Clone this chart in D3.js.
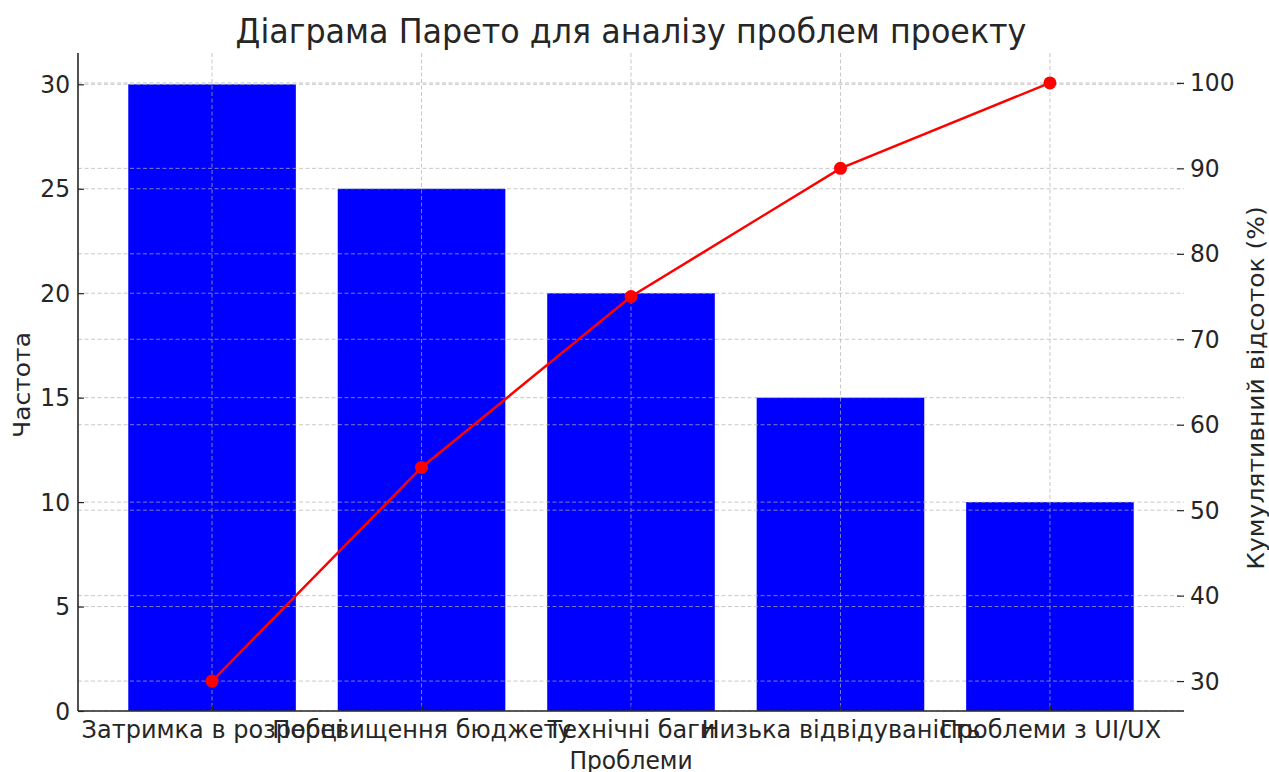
<!DOCTYPE html>
<html><head><meta charset="utf-8">
<script src="https://cdn.jsdelivr.net/npm/d3@7"></script>
<style>body{margin:0;background:#fff}svg{display:block}text{font-family:"DejaVu Sans",sans-serif;fill:#262626}</style>
</head><body><svg id="c" width="1269" height="772"></svg>
<script>
const categories = ["Затримка в розробці","Перевищення бюджету","Технічні баги","Низька відвідуваність","Проблеми з UI/UX"];
const frequency = [30, 25, 20, 15, 10];
const cumulative = [30, 55, 75, 90, 100];
const leftTicks = [0, 5, 10, 15, 20, 25, 30];
const rightTicks = [30, 40, 50, 60, 70, 80, 90, 100];

const SX = 0.935;     // horizontal squeeze of text seen in the reference
const SXB = 0.96;     // squeeze for category labels
const FS = 25;        // tick / label font size
const svg = d3.select("#c");
const L = 78, R = 1184, T = 53, B = 711;
const x = d3.scaleLinear().domain([-0.64, 4.64]).range([L, R]);
const yL = d3.scaleLinear().domain([0, 31.5]).range([B, T]);
const yR = d3.scaleLinear().domain([26.5, 103.5]).range([B, T]);
const bw = x(0.4) - x(-0.4);

// bars
svg.append("g").selectAll("rect").data(frequency).join("rect")
  .attr("x", (d,i) => x(i) - bw/2).attr("width", bw)
  .attr("y", d => yL(d)).attr("height", d => yL(0) - yL(d))
  .attr("fill", "#0000ff");

// grids
const grid = svg.append("g").attr("stroke", "#b0b0b0").attr("stroke-opacity", 0.7)
  .attr("stroke-width", 1).attr("stroke-dasharray", "4,2.5").attr("fill", "none");
leftTicks.forEach(t => grid.append("line").attr("x1", L).attr("x2", R).attr("y1", yL(t)).attr("y2", yL(t)));
rightTicks.forEach(t => grid.append("line").attr("x1", L).attr("x2", R).attr("y1", yR(t)).attr("y2", yR(t)));
categories.forEach((c,i) => grid.append("line").attr("x1", x(i)).attr("x2", x(i)).attr("y1", T).attr("y2", B));

// cumulative line
svg.append("path").datum(cumulative)
  .attr("d", d3.line().x((d,i) => x(i)).y(d => yR(d)))
  .attr("fill", "none").attr("stroke", "#ff0000").attr("stroke-width", 2.5);
svg.append("g").selectAll("circle").data(cumulative).join("circle")
  .attr("cx", (d,i) => x(i)).attr("cy", d => yR(d)).attr("r", 6.5).attr("fill", "#ff0000");

// axes
const axL = svg.append("g").attr("transform", `translate(${L},0)`)
  .call(d3.axisLeft(yL).tickValues(leftTicks).tickSize(6));
const axR = svg.append("g").attr("transform", `translate(${R},0)`)
  .call(d3.axisRight(yR).tickValues(rightTicks).tickSize(6));
const axB = svg.append("g").attr("transform", `translate(0,${B})`)
  .call(d3.axisBottom(x).tickValues(d3.range(categories.length)).tickFormat(i => categories[i]).tickSize(6));
[axL, axR, axB].forEach(a => {
  a.selectAll("text").attr("font-size", FS).attr("fill", "#262626").style("font-family", "DejaVu Sans");
  a.selectAll("line").attr("stroke", "#262626").attr("stroke-width", 1.2);
  a.select(".domain").attr("stroke", "#262626").attr("stroke-width", 1.6);
});
axR.select(".domain").remove();
axL.select(".domain").attr("d", `M0,${B}V${T}`);
axB.select(".domain").attr("d", `M${L},0H${R}`);
// inward ticks
axL.selectAll(".tick line").attr("x1", 0).attr("x2", 6);
axR.selectAll(".tick line").attr("x1", -7).attr("x2", 0);
axB.selectAll(".tick line").attr("y1", 0).attr("y2", -6);
// tick label positions (squeezed horizontally)
axL.selectAll(".tick text").attr("x", -8 / SX).attr("transform", `scale(${SX},1)`);
axR.selectAll(".tick text").attr("x", 6 / SX).attr("transform", `scale(${SX},1)`);
axB.selectAll(".tick text").attr("y", 9).attr("transform", `scale(${SXB},1)`);

// labels
svg.append("text").attr("transform", `translate(631,43) scale(${SX},1)`).attr("text-anchor", "middle").attr("font-size", 34).attr("fill", "#333").text("Діаграма Парето для аналізу проблем проекту");
svg.append("text").attr("transform", `translate(631,769) scale(${SX},1)`).attr("text-anchor", "middle").attr("font-size", FS).text("Проблеми");
svg.append("text").attr("transform", `translate(30,385) rotate(-90) scale(1,${SX})`).attr("text-anchor", "middle").attr("font-size", FS).text("Частота");
svg.append("text").attr("transform", `translate(1264,388) rotate(-90) scale(1,${SX})`).attr("text-anchor", "middle").attr("font-size", FS).text("Кумулятивний відсоток (%)");
</script></body></html>
